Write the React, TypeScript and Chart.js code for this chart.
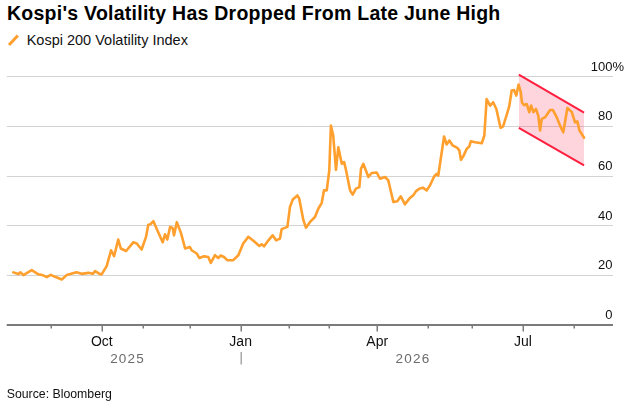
import React, { useEffect, useRef } from "react";
import { Chart, registerables } from "chart.js";

Chart.register(...registerables);

const FONT = '"Liberation Sans", Arial, Helvetica, sans-serif';

// x positions are trading-day positions counted from 1 Aug 2025
const tradingDay: number[] = [
  3.75, 5.9, 6.9, 8.1, 11.7, 14.6, 16.7, 18.2, 19.9, 21.8,
  24.7, 26.8, 31.1, 33.3, 36.2, 38.1, 39.1, 41.2, 42.0, 44.1,
  46.0, 47.3, 49.1, 50.2, 52.5, 55.6, 57.1, 59.2, 61.1, 62.1,
  63.1, 64.3, 65.7, 68.3, 69.3, 70.3, 71.5, 72.6, 73.2, 74.4,
  76.2, 78.0, 80.1, 80.8, 83.0, 84.1, 86.2, 88.0, 89.1, 90.9,
  92.3, 93.4, 94.8, 96.2, 98.8, 101.0, 103.1, 105.3, 107.5, 110.1,
  111.1, 112.1, 114.0, 115.8, 117.3, 119.0, 119.7, 122.2, 123.3, 124.5,
  125.5, 126.5, 127.3, 129.1, 130.2, 132.0, 134.1, 135.6, 137.0, 138.0,
  139.2, 140.3, 141.0, 142.0, 143.2, 144.2, 145.7, 146.7, 147.4, 149.3,
  150.4, 151.8, 153.3, 154.0, 155.0, 157.2, 158.6, 160.8, 162.2, 164.4,
  165.8, 168.0, 169.7, 171.2, 173.0, 174.9, 176.6, 177.8, 179.2, 180.7,
  182.4, 183.8, 185.6, 186.7, 187.4, 189.9, 191.0, 192.2, 193.6, 195.6,
  196.5, 197.2, 198.2, 199.7, 200.8, 201.5, 203.3, 206.2, 207.3, 208.3,
  209.8, 211.1, 212.5, 214.3, 215.4, 217.0, 218.1, 219.1, 220.1, 221.1,
  222.1, 223.0, 223.6, 224.5, 225.6, 226.7, 227.5, 228.5, 229.6, 230.6,
  231.4, 232.1, 233.5, 235.7, 236.9, 238.6, 240.0, 241.4, 243.2, 245.1,
  246.5, 247.5, 248.4, 250.4,
];

// Kospi 200 Volatility Index values
const volatility: number[] = [
  21.2, 20.5, 21.2, 20.1, 22.1, 20.4, 20.0, 19.3, 20.2, 19.4,
  18.3, 20.1, 21.2, 20.6, 21.0, 20.6, 21.7, 20.5, 20.5, 23.7,
  30.1, 27.7, 34.4, 30.8, 29.8, 33.3, 32.8, 30.4, 35.5, 40.4,
  40.6, 41.8, 38.8, 33.3, 36.5, 34.4, 39.5, 39.1, 36.1, 41.4,
  37.1, 30.8, 31.4, 30.1, 28.8, 27.0, 27.7, 27.4, 25.0, 28.1,
  27.0, 28.0, 27.4, 26.1, 26.1, 28.1, 32.8, 35.5, 33.9, 31.8,
  32.5, 31.7, 34.1, 36.1, 34.1, 34.8, 38.6, 39.5, 47.5, 50.5,
  51.3, 52.2, 50.9, 42.2, 39.2, 41.5, 43.5, 46.9, 49.1, 54.2,
  54.2, 62.2, 80.3, 76.3, 62.5, 71.6, 64.9, 65.6, 62.9, 54.2,
  52.5, 54.9, 55.5, 62.9, 64.9, 59.6, 61.2, 61.4, 58.9, 59.6,
  58.2, 49.5, 49.8, 51.8, 48.6, 50.9, 52.2, 53.9, 54.9, 55.3,
  54.2, 56.2, 59.8, 60.9, 60.2, 75.9, 72.7, 74.3, 72.3, 71.3,
  70.3, 66.5, 67.9, 71.0, 71.9, 74.0, 73.6, 73.2, 76.3, 91.0,
  88.3, 89.7, 87.0, 79.4, 80.0, 84.7, 88.2, 94.4, 94.6, 92.4,
  96.8, 94.0, 89.5, 88.5, 89.0, 85.7, 88.4, 85.7, 87.0, 84.3,
  78.3, 83.0, 83.6, 86.6, 86.6, 83.6, 80.3, 77.6, 87.4, 85.7,
  81.6, 82.0, 78.3, 75.4,
];

// downward channel drawn around the recent decline
const bandX: number[] = [222.2, 250.4];
const bandTop: number[] = [100.8, 85.5];
const bandBottom: number[] = [79.4, 64.3];

// month starts (trading-day positions) and their labels
const monthTicks: number[] = [20, 42, 60, 80, 102, 123, 140, 161, 183, 202, 224, 246];
const monthLabels: string[] = ["", "Oct", "", "", "Jan", "", "", "Apr", "", "", "Jul", ""];
const yearBreak = 102;
const yearLabels: string[] = ["2025", "2026"];

const yTicks: number[] = [0, 20, 40, 60, 80, 100];

const ORANGE = "#ff9f2e";
const RED = "#ff1f3f";

export default function App() {
  const ref = useRef<HTMLCanvasElement | null>(null);

  useEffect(() => {
    document.body.style.margin = "0";
    if (!ref.current) return;

    const points = tradingDay.map((x, i) => ({ x, y: volatility[i] }));
    const top = bandX.map((x, i) => ({ x, y: bandTop[i] }));
    const bottom = bandX.map((x, i) => ({ x, y: bandBottom[i] }));

    const axesPlugin = {
      id: "bbgAxes",
      afterDraw(chart: any) {
        const { ctx, chartArea, scales } = chart;
        const xs = scales.x;
        const ys = scales.y;
        const y0 = ys.getPixelForValue(0);
        ctx.save();

        // baseline axis
        ctx.strokeStyle = "#7b7b7b";
        ctx.lineWidth = 2;
        ctx.beginPath();
        ctx.moveTo(chartArea.left, y0);
        ctx.lineTo(chartArea.right, y0);
        ctx.stroke();

        // month ticks
        ctx.lineWidth = 1.5;
        monthTicks.forEach((t, i) => {
          const px = Math.round(xs.getPixelForValue(t)) + 0.25;
          const len = monthLabels[i] ? 6.5 : 3.5;
          ctx.beginPath();
          ctx.moveTo(px, y0);
          ctx.lineTo(px, y0 + len);
          ctx.stroke();
        });

        // month labels
        ctx.fillStyle = "#111";
        ctx.font = `14px ${FONT}`;
        ctx.textAlign = "center";
        ctx.textBaseline = "alphabetic";
        monthTicks.forEach((t, i) => {
          if (monthLabels[i]) ctx.fillText(monthLabels[i], xs.getPixelForValue(t), y0 + 21);
        });

        // year labels and divider
        const xb = xs.getPixelForValue(yearBreak);
        const xStart = xs.getPixelForValue(tradingDay[0]);
        const xEnd = xs.getPixelForValue(tradingDay[tradingDay.length - 1]);
        ctx.fillStyle = "#6b6b6b";
        ctx.font = `13.5px ${FONT}`;
        (ctx as any).letterSpacing = "1.2px";
        ctx.fillText(yearLabels[0], (xStart + xb) / 2 + 0.6, y0 + 37.5);
        ctx.fillText(yearLabels[1], (xb + xEnd) / 2 + 0.6, y0 + 37.5);
        (ctx as any).letterSpacing = "0px";
        ctx.strokeStyle = "#a8a8a8";
        ctx.lineWidth = 1.5;
        ctx.beginPath();
        ctx.moveTo(Math.round(xb) + 0.25, y0 + 27);
        ctx.lineTo(Math.round(xb) + 0.25, y0 + 39.5);
        ctx.stroke();

        // y labels above grid lines, right aligned
        ctx.fillStyle = "#111";
        ctx.font = `13px ${FONT}`;
        const rx = chartArea.right - 0.5;
        yTicks.forEach((v) => {
          const py = ys.getPixelForValue(v) - 6;
          ctx.textAlign = "right";
          ctx.fillText(String(v), rx, py);
          if (v === 100) {
            ctx.textAlign = "left";
            ctx.fillText("%", rx, py);
          }
        });
        ctx.restore();
      },
    };

    const chart = new Chart(ref.current, {
      type: "line",
      data: {
        datasets: [
          {
            label: "Channel top",
            data: top,
            borderColor: RED,
            borderWidth: 2,
            pointRadius: 0,
            fill: false,
            order: 1,
            clip: false,
          } as any,
          {
            label: "Channel bottom",
            data: bottom,
            borderColor: RED,
            borderWidth: 2,
            pointRadius: 0,
            fill: "-1",
            backgroundColor: "rgba(255, 45, 85, 0.2)",
            order: 1,
            clip: false,
          } as any,
          {
            label: "Kospi 200 Volatility Index",
            data: points,
            borderColor: ORANGE,
            borderWidth: 2.6,
            pointRadius: 0,
            fill: false,
            tension: 0,
            order: 0,
            borderJoinStyle: "round",
            borderCapStyle: "round",
          } as any,
        ],
      },
      options: {
        animation: false,
        responsive: true,
        maintainAspectRatio: false,
        layout: { padding: { left: 6.7, right: 25, top: 71.7, bottom: 86 } },
        plugins: {
          legend: { display: false },
          tooltip: { enabled: false },
        },
        scales: {
          x: {
            type: "linear",
            min: 0.9,
            max: 262.9,
            display: false,
          },
          y: {
            type: "linear",
            position: "right",
            min: 0,
            max: 102,
            afterBuildTicks: (scale: any) => {
              scale.ticks = yTicks.map((v) => ({ value: v }));
            },
            grid: {
              drawTicks: false,
              color: (c: any) => (c.tick && c.tick.value === 0 ? "rgba(0,0,0,0)" : "#d3d3d3"),
              lineWidth: 1,
            },
            border: { display: false },
            ticks: { display: false },
          },
        },
      },
      plugins: [axesPlugin],
    });

    return () => chart.destroy();
  }, []);

  return (
    <div
      style={{
        position: "absolute",
        left: 0,
        top: 0,
        width: 638,
        height: 411,
        background: "#fff",
        fontFamily: FONT,
        color: "#000",
        overflow: "hidden",
      }}
    >
      <div
        style={{
          position: "absolute",
          left: 7,
          top: 3.5,
          fontSize: 19.5,
          lineHeight: 1,
          fontWeight: 700,
          letterSpacing: 0.25,
          whiteSpace: "nowrap",
        }}
      >
        Kospi's Volatility Has Dropped From Late June High
      </div>
      <div
        style={{
          position: "absolute",
          left: 6.5,
          top: 39,
          width: 12.5,
          height: 3,
          background: ORANGE,
          transform: "rotate(-47deg)",
        }}
      />
      <div
        style={{
          position: "absolute",
          left: 26.7,
          top: 33.4,
          fontSize: 14.5,
          lineHeight: 1,
          whiteSpace: "nowrap",
          color: "#111",
        }}
      >
        Kospi 200 Volatility Index
      </div>
      <div style={{ position: "absolute", left: 0, top: 0, width: 638, height: 411 }}>
        <canvas ref={ref} />
      </div>
      <div
        style={{
          position: "absolute",
          left: 6.7,
          top: 387.9,
          fontSize: 12.3,
          lineHeight: 1,
          whiteSpace: "nowrap",
          color: "#111",
        }}
      >
        Source: Bloomberg
      </div>
    </div>
  );
}
